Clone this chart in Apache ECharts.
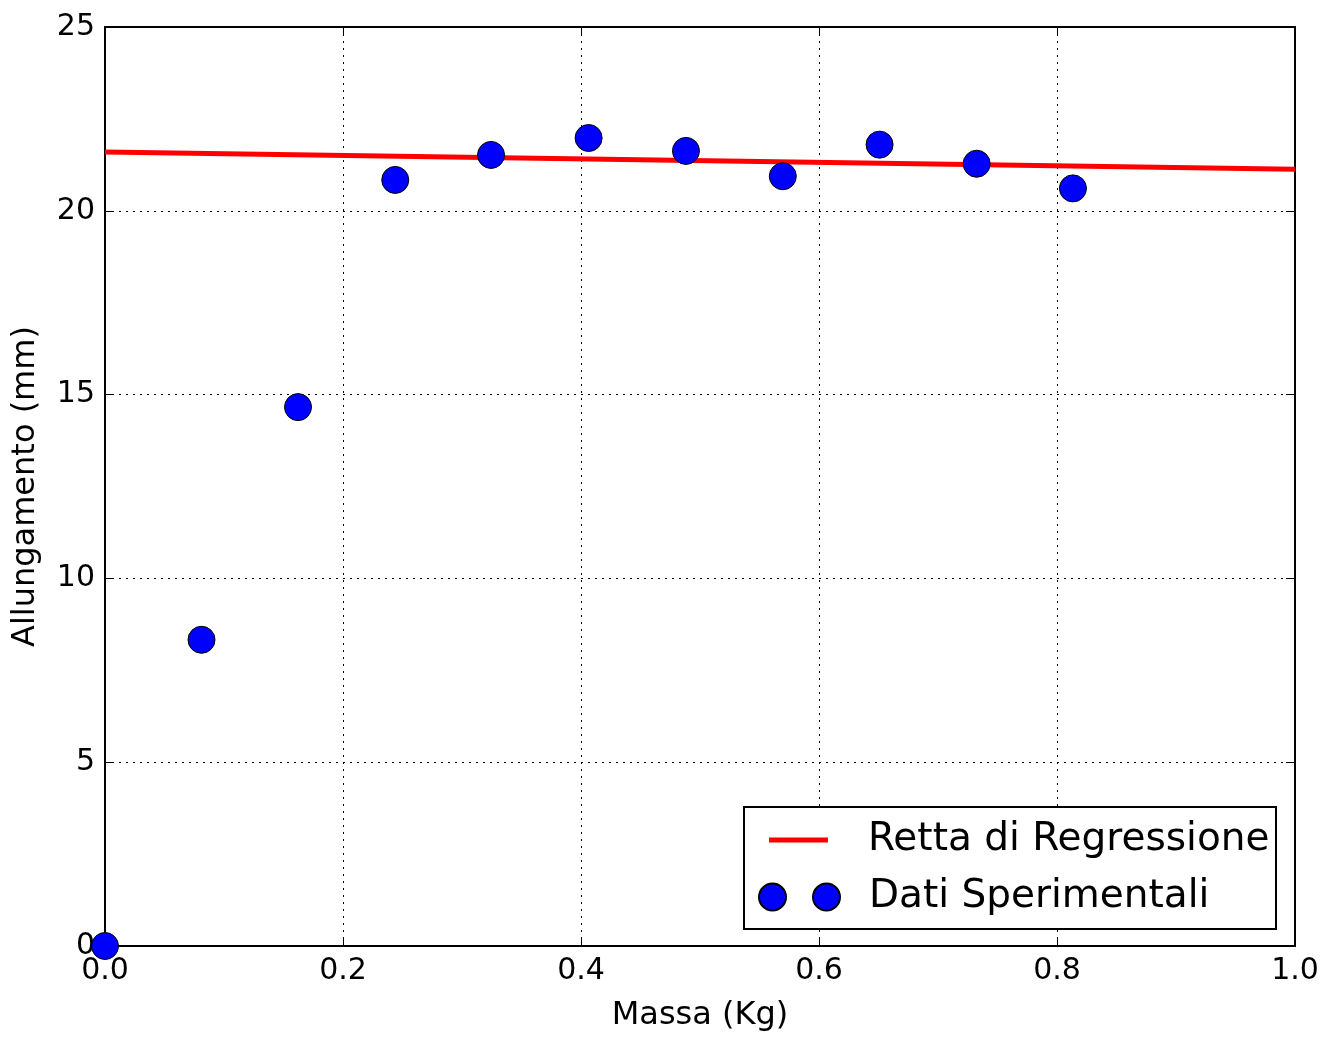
<!DOCTYPE html>
<html>
<head>
<meta charset="utf-8">
<script src="https://cdn.jsdelivr.net/npm/echarts@6/dist/echarts.min.js"></script>
<style>
  html, body { margin: 0; padding: 0; background: #fff; }
  #chart { width: 1341px; height: 1037px; }
</style>
</head>
<body>
<div id="chart"></div>
<script>
// dati
const massa = [0, 0.0811, 0.1622, 0.2439, 0.3244, 0.4064, 0.4882, 0.5696, 0.6509, 0.7325, 0.8134]
const allungamento = [0, 8.33, 14.66, 20.84, 21.52, 21.98, 21.63, 20.94, 21.80, 21.28, 20.61]
// retta di regressione: estremi x e y
const rettaX = [0, 1]
const rettaY = [21.60, 21.13]
const xTicks = [0, 0.2, 0.4, 0.6, 0.8, 1.0]
const yTicks = [0, 5, 10, 15, 20, 25]

const FONT = 'DejaVu Sans'

function punti() {
    var d = []
    for (var i = 0; i < massa.length; i++) {
        d.push([massa[i], allungamento[i]])
    }
    return d
}
function retta() {
    var d = []
    for (var i = 0; i < rettaX.length; i++) {
        d.push([rettaX[i], rettaY[i]])
    }
    return d
}

const gridLine = { show: true, lineStyle: { color: '#000', width: 1, type: [2, 5] } }
const tickIn = { show: true, inside: true, length: 9, lineStyle: { color: '#000', width: 1 } }
const axLine = { show: true, onZero: false, lineStyle: { color: '#000', width: 2 } }

const chart = echarts.init(document.getElementById('chart'))
const options = {
    animation: false,
    backgroundColor: '#fff',
    textStyle: { fontFamily: FONT },
    grid: { left: 105, top: 27, right: 46, bottom: 89 },
    xAxis: [
        {
            type: 'value',
            min: xTicks[0],
            max: xTicks[xTicks.length - 1],
            interval: 0.2,
            name: 'Massa (Kg)',
            nameLocation: 'middle',
            nameGap: 54,
            nameTextStyle: { fontSize: 32, color: '#000', fontFamily: FONT },
            axisLine: axLine,
            axisTick: tickIn,
            splitLine: gridLine,
            axisLabel: {
                fontSize: 30, color: '#000', fontFamily: FONT, margin: 10,
                formatter: function (v) { return v.toFixed(1) }
            }
        },
        {
            type: 'value',
            position: 'top',
            min: xTicks[0],
            max: xTicks[xTicks.length - 1],
            interval: 0.2,
            axisLine: axLine,
            axisTick: tickIn,
            splitLine: { show: false },
            axisLabel: { show: false }
        }
    ],
    yAxis: [
        {
            type: 'value',
            min: yTicks[0],
            max: yTicks[yTicks.length - 1],
            interval: 5,
            name: 'Allungamento (mm)',
            nameLocation: 'middle',
            nameRotate: 90,
            nameGap: 63,
            nameTextStyle: { fontSize: 32, color: '#000', fontFamily: FONT },
            axisLine: axLine,
            axisTick: tickIn,
            splitLine: gridLine,
            axisLabel: { fontSize: 30, color: '#000', fontFamily: FONT, margin: 10 }
        },
        {
            type: 'value',
            position: 'right',
            min: yTicks[0],
            max: yTicks[yTicks.length - 1],
            interval: 5,
            axisLine: axLine,
            axisTick: tickIn,
            splitLine: { show: false },
            axisLabel: { show: false }
        }
    ],
    legend: [
        {
            data: [{ name: 'Retta di Regressione', icon: 'rect' }],
            left: 769,
            top: 820,
            padding: 0,
            itemWidth: 59,
            itemHeight: 5,
            textStyle: { fontSize: 39, color: '#000', fontFamily: FONT, lineHeight: 40, padding: [0, 0, 0, 35] }
        },
        {
            data: [{
                name: 'Dati Sperimentali',
                icon: 'path://M0,13.5A13.5,13.5,0,1,1,27,13.5A13.5,13.5,0,1,1,0,13.5ZM54,13.5A13.5,13.5,0,1,1,81,13.5A13.5,13.5,0,1,1,54,13.5Z'
            }],
            left: 758,
            top: 877,
            padding: 0,
            itemWidth: 81,
            itemHeight: 27,
            textStyle: { fontSize: 39, color: '#000', fontFamily: FONT, lineHeight: 40, padding: [0, 0, 0, 24] }
        }
    ],
    graphic: [
        {
            type: 'rect',
            z: 3,
            shape: { x: 744, y: 807, width: 532, height: 122 },
            style: { fill: '#fff', stroke: '#000', lineWidth: 2 }
        }
    ],
    series: [
        {
            name: 'Retta di Regressione',
            type: 'line',
            data: retta(),
            symbol: 'none',
            lineStyle: { color: '#ff0000', width: 5 },
            itemStyle: { color: '#ff0000' },
            z: 2
        },
        {
            name: 'Dati Sperimentali',
            type: 'scatter',
            data: punti(),
            symbol: 'circle',
            symbolSize: 27,
            itemStyle: { color: '#0000ff', borderColor: '#000', borderWidth: 1, opacity: 1 },
            z: 2
        }
    ]
}
chart.setOption(options)
</script>
</body>
</html>
